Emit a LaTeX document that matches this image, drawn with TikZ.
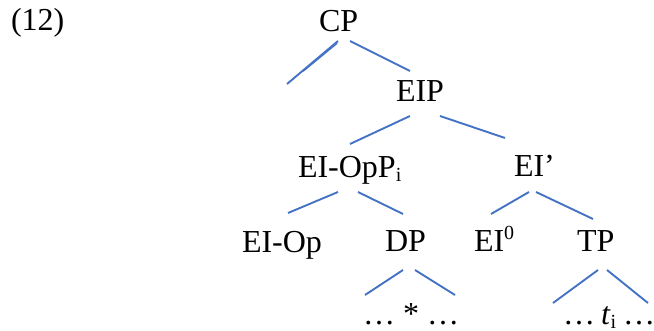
\documentclass[tikz,border=0pt]{standalone}
\usepackage{fontspec}
\setmainfont{Liberation Serif}
\definecolor{branch}{RGB}{68,114,196}
\tikzset{
  lbl/.style={anchor=base west, inner sep=0pt, outer sep=0pt, font=\fontsize{32}{38}\selectfont},
  branchline/.style={draw=branch, line width=1.9pt},
}
% lowered subscript and raised superscript in the text font
\newcommand{\lowsub}[1]{\raisebox{-4pt}{\fontsize{20}{20}\selectfont #1}}
\newcommand{\highsup}[1]{\raisebox{12pt}{\fontsize{20}{20}\selectfont #1}}

\begin{document}
\begin{tikzpicture}[x=1pt,y=-1pt]
\useasboundingbox (0,0) rectangle (654,331);

% example number
\node[lbl] (num) at (11,31) {(12)};

% tree labels
\node[lbl] (CP)   at (319,32)  {CP};
\node[lbl] (EIP)  at (396,102) {EIP};
\node[lbl] (OpP)  at (298,178) {EI-OpP\lowsub{i}};
\node[lbl] (EIb)  at (514,177) {EI’};
\node[lbl] (Op)   at (242,253) {EI-Op};
\node[lbl] (DP)   at (385,252) {DP};
\node[lbl] (EI0)  at (474,252) {EI\highsup{0}};
\node[lbl] (TP)   at (577,252) {TP};
\node[lbl] (dpyield) at (363,325) {… * …};
\node[lbl] (tpyield) at (563,325) {…\hspace{6pt}\textit{t}\lowsub{i}\hspace{7pt}…};

% branch end points
\coordinate (cpL1) at (338,41);  \coordinate (cpL2) at (287,84);
\coordinate (cpR1) at (350,41);  \coordinate (cpR2) at (410,71);
\coordinate (eipL1) at (410,116); \coordinate (eipL2) at (350,144);
\coordinate (eipR1) at (440,116); \coordinate (eipR2) at (505,138);
\coordinate (opL1) at (338,192); \coordinate (opL2) at (288,213);
\coordinate (opR1) at (358,192); \coordinate (opR2) at (403,214);
\coordinate (ebL1) at (529,192); \coordinate (ebL2) at (491,214);
\coordinate (ebR1) at (536,192); \coordinate (ebR2) at (593,219);
\coordinate (dpL1) at (403,270); \coordinate (dpL2) at (365,295);
\coordinate (dpR1) at (415,270); \coordinate (dpR2) at (455,295);
\coordinate (tpL1) at (598,270); \coordinate (tpL2) at (553,303);
\coordinate (tpR1) at (607,270); \coordinate (tpR2) at (648,303);
\coordinate (cpD1) at (337,42);  \coordinate (cpD2) at (303,70);

% branches
\draw[branchline] (cpL1) -- (cpL2);
\draw[branchline] ([yshift=-1pt]cpD1) -- ([yshift=-1pt]cpD2);
\draw[branchline] (cpR1) -- (cpR2);
\draw[branchline] (eipL1) -- (eipL2);
\draw[branchline] (eipR1) -- (eipR2);
\draw[branchline] (opL1) -- (opL2);
\draw[branchline] (opR1) -- (opR2);
\draw[branchline] (ebL1) -- (ebL2);
\draw[branchline] (ebR1) -- (ebR2);
\draw[branchline] (dpL1) -- (dpL2);
\draw[branchline] (dpR1) -- (dpR2);
\draw[branchline] (tpL1) -- (tpL2);
\draw[branchline] (tpR1) -- (tpR2);
\end{tikzpicture}
\end{document}
